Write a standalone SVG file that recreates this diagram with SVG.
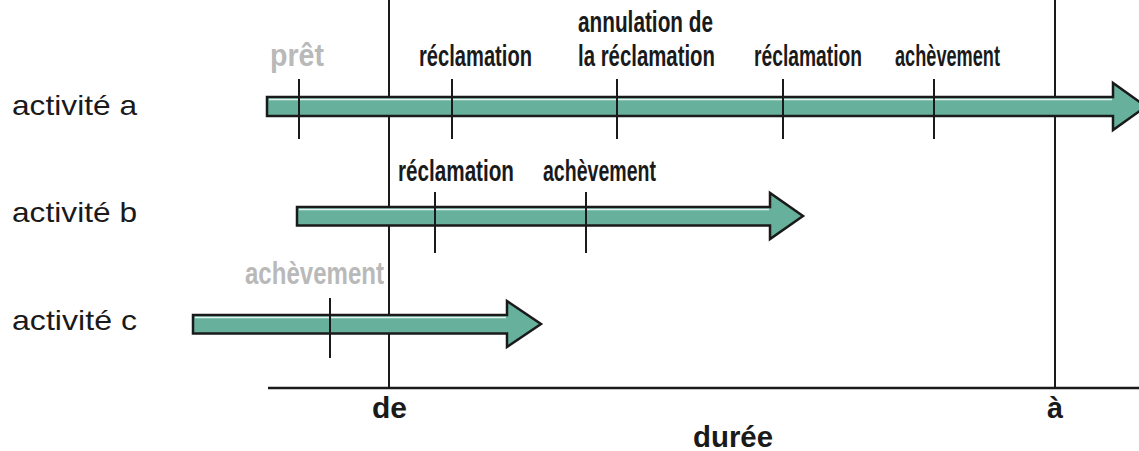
<svg xmlns="http://www.w3.org/2000/svg" width="1139" height="451" viewBox="0 0 1139 451">
<defs>
<style>
.arrow{fill:#67b19c;stroke:#1a1a1a;stroke-width:2.5;stroke-linejoin:miter}
.hl{stroke:#e4f2ee;stroke-width:1.5}
.tick{stroke:#1a1a1a;stroke-width:2}
.vline{stroke:#1a1a1a;stroke-width:2}
.axis{stroke:#1a1a1a;stroke-width:2.5}
.lbl{font-family:"Liberation Sans",Arial,sans-serif;font-size:28px;fill:#1a1a1a}
.ev{font-family:"Liberation Sans","Liberation Sans Narrow",Arial,sans-serif;font-weight:bold;font-size:29px;fill:#1a1a1a}
.big{font-size:30px}
.gray{fill:#b9b9b9;font-size:31px}
</style>
</defs>
<g id="axes">
<line class="vline" x1="389" y1="0" x2="389" y2="388"/>
<line class="vline" x1="1055" y1="0" x2="1055" y2="388"/>
<line class="axis" x1="268" y1="388" x2="1139" y2="388"/>
<text class="ev big" x="372" y="418" textLength="35" lengthAdjust="spacingAndGlyphs">de</text>
<text class="ev big" x="1047" y="418" textLength="16" lengthAdjust="spacingAndGlyphs">à</text>
<text class="ev big" x="693" y="447" textLength="80" lengthAdjust="spacingAndGlyphs">durée</text>
</g>
<g id="activite-a">
<text class="lbl" x="12" y="115" textLength="125" lengthAdjust="spacingAndGlyphs">activité a</text>
<polygon class="arrow" points="267,97 1113,97 1113,83 1146,106.5 1113,130 1113,116 267,116"/>
<line class="hl" x1="269" y1="99.5" x2="1112" y2="99.5"/>
<line class="tick" x1="299" y1="79" x2="299" y2="139"/>
<line class="tick" x1="452" y1="79" x2="452" y2="139"/>
<line class="tick" x1="617" y1="79" x2="617" y2="139"/>
<line class="tick" x1="783" y1="79" x2="783" y2="139"/>
<line class="tick" x1="934" y1="79" x2="934" y2="139"/>
<text class="ev gray" transform="translate(270,66) scale(0.9,1)" textLength="60" lengthAdjust="spacingAndGlyphs">prêt</text>
<text class="ev" transform="translate(419,66) scale(0.7,1)" textLength="161.4" lengthAdjust="spacingAndGlyphs">réclamation</text>
<text class="ev" transform="translate(578,32) scale(0.7,1)" textLength="192.9" lengthAdjust="spacingAndGlyphs">annulation de</text>
<text class="ev" transform="translate(578,66) scale(0.7,1)" textLength="195.7" lengthAdjust="spacingAndGlyphs">la réclamation</text>
<text class="ev" transform="translate(754,66) scale(0.7,1)" textLength="154.3" lengthAdjust="spacingAndGlyphs">réclamation</text>
<text class="ev" transform="translate(895,66) scale(0.7,1)" textLength="150" lengthAdjust="spacingAndGlyphs">achèvement</text>
</g>
<g id="activite-b">
<text class="lbl" x="12" y="222" textLength="125" lengthAdjust="spacingAndGlyphs">activité b</text>
<polygon class="arrow" points="297,207 770,207 770,193 803,216 770,239 770,225.5 297,225.5"/>
<line class="hl" x1="299" y1="209.5" x2="769" y2="209.5"/>
<line class="tick" x1="435" y1="192" x2="435" y2="253"/>
<line class="tick" x1="586" y1="192" x2="586" y2="253"/>
<text class="ev" transform="translate(398,181) scale(0.7,1)" textLength="165.7" lengthAdjust="spacingAndGlyphs">réclamation</text>
<text class="ev" transform="translate(543,181) scale(0.7,1)" textLength="161.4" lengthAdjust="spacingAndGlyphs">achèvement</text>
</g>
<g id="activite-c">
<text class="lbl" x="12" y="330" textLength="125" lengthAdjust="spacingAndGlyphs">activité c</text>
<polygon class="arrow" points="193,315 507,315 507,301 541,324 507,347 507,333.5 193,333.5"/>
<line class="hl" x1="195" y1="317.5" x2="506" y2="317.5"/>
<line class="tick" x1="330" y1="298" x2="330" y2="358"/>
<text class="ev gray" transform="translate(245,284) scale(0.78,1)" textLength="178.2" lengthAdjust="spacingAndGlyphs">achèvement</text>
</g>
</svg>
